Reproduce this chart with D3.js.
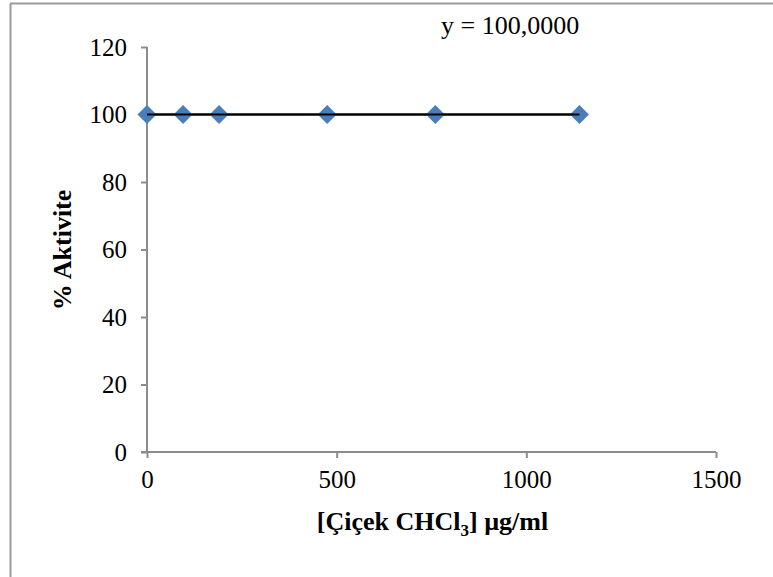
<!DOCTYPE html>
<html><head><meta charset="utf-8">
<script src="https://cdn.jsdelivr.net/npm/d3@7"></script>
<style>html,body{margin:0;padding:0;background:#fff;}svg{display:block;}</style>
</head><body>
<script>
const xValues = [0, 95, 190, 475, 760, 1140];
const yValues = [100, 100, 100, 100, 100, 100];
const xTicks = [0, 500, 1000, 1500];
const yTicks = [0, 20, 40, 60, 80, 100, 120];
const trendIntercept = 100;
const equationText = "y = 100,0000";
const xTitle = "[Çiçek CHCl";
const xTitleSub = "3";
const xTitleEnd = "] µg/ml";
const yTitle = "% Aktivite";

const W = 773, H = 577;
const svg = d3.select("body").append("svg").attr("width", W).attr("height", H);
const font = "'Liberation Serif','Times New Roman',serif";

// outer border (left and top only visible)
svg.append("line").attr("x1", 10.5).attr("x2", 10.5).attr("y1", 3.5).attr("y2", H).attr("stroke", "#9a9a9a").attr("stroke-width", 2);
svg.append("line").attr("x1", 10).attr("x2", W).attr("y1", 3.5).attr("y2", 3.5).attr("stroke", "#9a9a9a").attr("stroke-width", 2);

const x = d3.scaleLinear().domain([0, 1500]).range([147, 716]);
const y = d3.scaleLinear().domain([0, 120]).range([452, 47]);

const gx = svg.append("g").attr("transform", `translate(0,${y(0)})`)
  .call(d3.axisBottom(x).tickValues(xTicks).tickSize(6).tickPadding(12).tickSizeOuter(0).tickFormat(d3.format("d")));
const gy = svg.append("g").attr("transform", `translate(${x(0)},0)`)
  .call(d3.axisLeft(y).tickValues(yTicks).tickSize(6).tickPadding(14).tickSizeOuter(0));

[gx, gy].forEach(g => {
  g.select(".domain").attr("stroke", "#8c8c8c").attr("stroke-width", 2);
  g.selectAll(".tick line").attr("stroke", "#8c8c8c").attr("stroke-width", 2);
  g.selectAll(".tick text").attr("font-family", font).attr("font-size", 25).attr("fill", "#000");
});
// y domain extends slightly left below zero to cross (Excel style)
gy.select(".domain").remove();
svg.append("line").attr("x1", x(0)).attr("x2", x(0)).attr("y1", y(120)).attr("y2", y(0)).attr("stroke", "#8c8c8c").attr("stroke-width", 2);
gx.select(".domain").remove();
svg.append("line").attr("x1", x(0) - 6).attr("x2", x(1500)).attr("y1", y(0)).attr("y2", y(0)).attr("stroke", "#8c8c8c").attr("stroke-width", 2);

// trend line
svg.append("line")
  .attr("x1", x(d3.min(xValues))).attr("x2", x(d3.max(xValues)))
  .attr("y1", y(trendIntercept)).attr("y2", y(trendIntercept))
  .attr("stroke", "#000").attr("stroke-width", 2);

// points
const pts = xValues.map((v, i) => [v, yValues[i]]);
svg.selectAll("path.pt").data(pts).enter().append("path")
  .attr("class", "pt")
  .attr("d", d3.symbol().type(d3.symbolDiamond2 || d3.symbolSquare).size(180))
  .attr("transform", d => `translate(${x(d[0])},${y(d[1])}) rotate(45)`)
  .attr("fill", "#4a7ebb");

// fix: draw explicit diamonds
svg.selectAll("path.pt").remove();
svg.selectAll("path.dm").data(pts).enter().append("path")
  .attr("class", "dm")
  .attr("d", d => { const cx = x(d[0]), cy = y(d[1]), r = 9.5; return `M${cx},${cy-r}L${cx+r},${cy}L${cx},${cy+r}L${cx-r},${cy}Z`; })
  .attr("fill", "#4a7ebb");
// trend line over points
svg.append("line")
  .attr("x1", x(d3.min(xValues))).attr("x2", x(d3.max(xValues)))
  .attr("y1", y(trendIntercept)).attr("y2", y(trendIntercept))
  .attr("stroke", "#000").attr("stroke-width", 2);

// equation
svg.append("text").attr("x", 441).attr("y", 34).attr("font-family", font).attr("font-size", 26).attr("fill", "#000").text(equationText);

// x title
const xt = svg.append("text").attr("x", (x(0) + x(1500)) / 2 + 1).attr("y", 530).attr("text-anchor", "middle")
  .attr("font-family", font).attr("font-size", 26).attr("font-weight", "bold").attr("fill", "#000");
xt.append("tspan").text(xTitle);
xt.append("tspan").attr("font-size", 17).attr("dy", 6).text(xTitleSub);
xt.append("tspan").attr("dy", -6).text(xTitleEnd);

// y title
svg.append("text").attr("transform", `translate(71,250) rotate(-90)`).attr("text-anchor", "middle")
  .attr("font-family", font).attr("font-size", 26).attr("font-weight", "bold").attr("fill", "#000").text(yTitle);
</script>
</body></html>
